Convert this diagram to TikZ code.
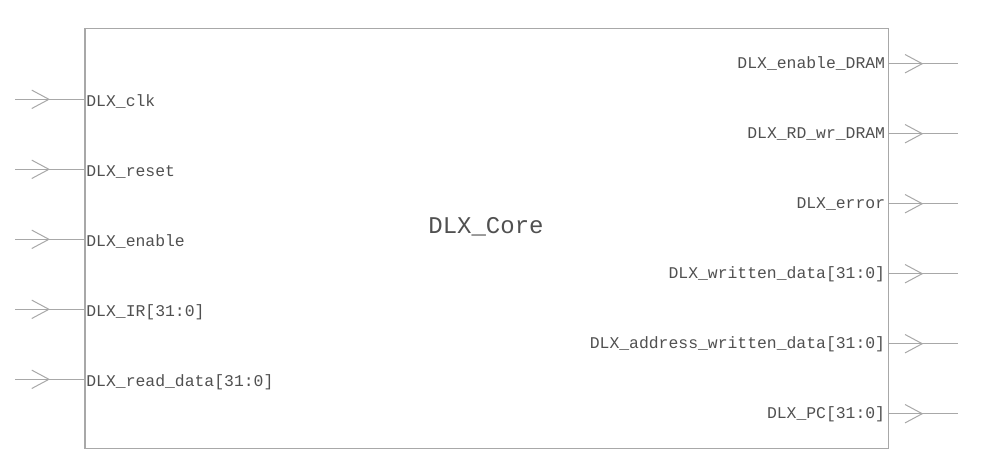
\documentclass[tikz,border=0pt]{standalone}
\usepackage{fontspec}
\setmonofont{Liberation Mono}
\usetikzlibrary{positioning,arrows.meta,decorations.markings}

\definecolor{wiregray}{HTML}{A8A8A8}
\definecolor{textgray}{HTML}{505050}

\begin{document}
\begin{tikzpicture}[
    x=0.5pt, y=-0.5pt,
    corebox/.style={rectangle, draw=wiregray, line width=0.6pt, inner sep=0pt, outer sep=0pt, anchor=north west,
      minimum width=401.7pt, minimum height=209.7pt},
    % port labels sit against the box edge, on the baseline
    portIn/.style={anchor=base west, inner sep=0pt, text=textgray, font=\ttfamily\fontsize{8.2}{9}\selectfont},
    portOut/.style={anchor=base east, inner sep=0pt, text=textgray, font=\ttfamily\fontsize{8.2}{9}\selectfont},
    title/.style={inner sep=0pt, text=textgray, font=\ttfamily\fontsize{12}{14}\selectfont},
    % wire with an open arrow head halfway along
    wire/.style={draw=wiregray, line width=0.5pt, postaction={decorate},
      decoration={markings, mark=at position 0.5 with {\arrow[wiregray]{Straight Barb[length=8.6pt, width=9.2pt, line width=0.5pt]}}}}
  ]
    \useasboundingbox (0,0) rectangle (981,473);

    %--- Block
    \node[corebox] (core) at (85,28.7) {};
    \node[title] (coreName) at (486,227) {DLX\_Core};

    %--- Inputs (left side)
    \coordinate (clk_in)   at (15,99.3);
    \coordinate (rst_in)   at (15,169.3);
    \coordinate (en_in)    at (15,239.3);
    \coordinate (ir_in)    at (15,309.3);
    \coordinate (rdata_in) at (15,379.3);

    \coordinate (clk_p)   at (85,99.3);
    \coordinate (rst_p)   at (85,169.3);
    \coordinate (en_p)    at (85,239.3);
    \coordinate (ir_p)    at (85,309.3);
    \coordinate (rdata_p) at (85,379.3);

    \node[portIn] (clk)   at (86,106.5) {DLX\_clk};
    \node[portIn] (rst)   at (86,176.5) {DLX\_reset};
    \node[portIn] (en)    at (86,246.5) {DLX\_enable};
    \node[portIn] (ir)    at (86,316.5) {DLX\_IR[31:0]};
    \node[portIn] (rdata) at (86,386.5) {DLX\_read\_data[31:0]};

    \draw[wire] (clk_in)   -- (clk_p);
    \draw[wire] (rst_in)   -- (rst_p);
    \draw[wire] (en_in)    -- (en_p);
    \draw[wire] (ir_in)    -- (ir_p);
    \draw[wire] (rdata_in) -- (rdata_p);

    %--- Outputs (right side)
    \coordinate (edram_p) at (888.3,63.7);
    \coordinate (rwdram_p) at (888.3,133.7);
    \coordinate (err_p)   at (888.3,203.7);
    \coordinate (wdata_p) at (888.3,273.7);
    \coordinate (addr_p)  at (888.3,343.7);
    \coordinate (pc_p)    at (888.3,413.7);

    \coordinate (edram_out) at (958.3,63.7);
    \coordinate (rwdram_out) at (958.3,133.7);
    \coordinate (err_out)   at (958.3,203.7);
    \coordinate (wdata_out) at (958.3,273.7);
    \coordinate (addr_out)  at (958.3,343.7);
    \coordinate (pc_out)    at (958.3,413.7);

    \node[portOut] (edram)  at (885.5,68.5) {DLX\_enable\_DRAM};
    \node[portOut] (rwdram) at (885.5,138.5) {DLX\_RD\_wr\_DRAM};
    \node[portOut] (err)    at (885.5,208.5) {DLX\_error};
    \node[portOut] (wdata)  at (885.5,278.5) {DLX\_written\_data[31:0]};
    \node[portOut] (addr)   at (885.5,348.5) {DLX\_address\_written\_data[31:0]};
    \node[portOut] (pc)     at (885.5,418.5) {DLX\_PC[31:0]};

    \draw[wire] (edram_p)  -- (edram_out);
    \draw[wire] (rwdram_p) -- (rwdram_out);
    \draw[wire] (err_p)    -- (err_out);
    \draw[wire] (wdata_p)  -- (wdata_out);
    \draw[wire] (addr_p)   -- (addr_out);
    \draw[wire] (pc_p)     -- (pc_out);
  \end{tikzpicture}
\end{document}
